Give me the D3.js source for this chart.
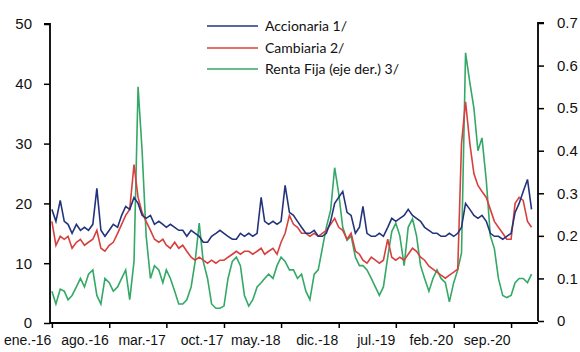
<!DOCTYPE html>
<html><head><meta charset="utf-8">
<script src="https://cdn.jsdelivr.net/npm/d3@7"></script>
<style>
body{margin:0;background:#fff;}
svg{display:block;font-family:Lato,"Open Sans",sans-serif;}
</style></head>
<body><svg id="c" width="580" height="352"></svg>
<script>
// Half-monthly observations (1st and 16th) from ene-2016 to nov-2020
const startYear = 2016, nPoints = 118;
const dates = d3.range(nPoints).map(i => new Date(startYear, Math.floor(i/2), i%2 ? 16 : 1));

const accionaria = [19,17,20.5,17,16.5,15,16.5,15.5,16,15.5,16.5,22.5,15.5,14.5,15.5,16.5,16,18,19.5,19,
  21,20,18,17.5,18,16.5,17,16.5,16,16.5,16,15.5,15.5,14.5,15.5,15,14.5,13.5,13.5,14.5,
  15,15.5,15,14.5,14,14,15,14.5,15,14.5,15,21,17,16.5,17,16.5,17,23,18.5,18,
  17,16,15,15,15.5,14.5,14.5,15,17,20,21,22,18.5,18,15,16,19.5,15,14.5,14.5,
  15,14.5,16,17.5,17,17.5,18,19,18,17.5,17,16,15.5,15,15,14.5,14.5,15,14.5,15,
  16,20,19,18,17.5,18,17,15,14.5,14.5,14,14.5,15,18.5,20,22,24,19];

const cambiaria = [17,13,14.5,14,14.5,12.5,13.5,14,13,13.5,14,15.5,12.5,12,13,13.5,15,16.5,18,19,
  26.5,21,18.5,17,15.5,14,13.5,14,13,12.5,13.5,12.5,13,12,11,10.5,11,10.5,10,10.5,
  10,10.5,10.5,11,11.5,12,11.5,12,12,11.5,12,12.5,11.5,12,12.5,11.5,13.5,15,18,16.5,
  16,15,15,14.5,15,14.5,15,15.5,16.5,17.5,16,15.5,14,15,12,11.5,10.5,10,11,10.5,
  10,10.5,14,11,10.5,11,10.5,11.5,12.5,12,11,10.5,9.5,9,8.5,8,7.5,8,8.5,9,
  30,37,30,25,23,22,21,19,17,16,15,14,14,20,21,20.5,17,16];

const rentaFija = [0.07,0.04,0.075,0.07,0.05,0.06,0.08,0.1,0.08,0.11,0.12,0.06,0.04,0.1,0.09,0.07,0.08,0.1,0.12,0.05,
  0.14,0.55,0.4,0.2,0.1,0.13,0.12,0.09,0.12,0.1,0.07,0.04,0.04,0.05,0.08,0.14,0.23,0.14,0.1,0.04,
  0.03,0.03,0.035,0.1,0.14,0.15,0.13,0.06,0.035,0.05,0.08,0.09,0.1,0.11,0.1,0.13,0.15,0.14,0.12,0.12,
  0.1,0.11,0.07,0.05,0.11,0.12,0.17,0.22,0.26,0.36,0.3,0.22,0.19,0.2,0.15,0.13,0.13,0.12,0.1,0.08,
  0.06,0.08,0.15,0.21,0.23,0.2,0.13,0.22,0.24,0.2,0.13,0.1,0.07,0.1,0.12,0.1,0.09,0.045,0.09,0.12,
  0.16,0.63,0.56,0.5,0.4,0.43,0.33,0.2,0.17,0.1,0.06,0.055,0.06,0.09,0.1,0.1,0.09,0.11];

const tickLabels = ["ene.-16","ago.-16","mar.-17","oct.-17","may.-18","dic.-18","jul.-19","feb.-20","sep.-20"];
const tickDates = tickLabels.map((_, i) => new Date(2016, i*7, 1));
const leftTicks = [0,10,20,30,40,50];
const rightTicks = [0,0.1,0.2,0.3,0.4,0.5,0.6,0.7];
const seriesNames = ["Accionaria 1/","Cambiaria 2/","Renta Fija (eje der.) 3/"];
const colors = ["#24347c","#d8403e","#34a866"];

const svg = d3.select("#c");
const x = d3.scaleTime().domain([new Date(2015,11,25), new Date(2020,11,10)]).range([50,538]);
const yL = d3.scaleLinear().domain([0,50]).range([323,24]);
const yR = d3.scaleLinear().domain([0,0.7]).range([321,23]);

const lineL = d3.line().x((d,i)=>x(dates[i])).y(d=>yL(d));
const lineR = d3.line().x((d,i)=>x(dates[i])).y(d=>yR(d));

const g = svg.append("g");
g.append("path").attr("d", lineR(rentaFija)).attr("fill","none").attr("stroke",colors[2]).attr("stroke-width",1.6);
g.append("path").attr("d", lineL(cambiaria)).attr("fill","none").attr("stroke",colors[1]).attr("stroke-width",1.6);
g.append("path").attr("d", lineL(accionaria)).attr("fill","none").attr("stroke",colors[0]).attr("stroke-width",1.6);

const axL = svg.append("g").attr("transform","translate(50,0)")
  .call(d3.axisLeft(yL).tickValues(leftTicks).tickSize(6).tickPadding(12).tickFormat(d3.format("d")));
const axR = svg.append("g").attr("transform","translate(538,0)")
  .call(d3.axisRight(yR).tickValues(rightTicks).tickSize(6).tickPadding(13).tickFormat(d => d===0 ? "0" : d3.format(".1f")(d)));
const axB = svg.append("g").attr("transform","translate(0,323)")
  .call(d3.axisBottom(x).tickValues(tickDates).tickSize(5).tickPadding(7).tickFormat((d,i)=>tickLabels[i]));

[axL,axR,axB].forEach(a=>{
  a.select(".domain").attr("stroke","#000").attr("stroke-width",1.8);
  a.selectAll(".tick line").attr("stroke","#000").attr("stroke-width",1.5);
  a.selectAll("text").attr("fill","#111").style("font-size","15px");
});
axB.selectAll(".tick text").attr("text-anchor","end").attr("dx","-1").style("font-size","14px");
axL.select(".domain").attr("d","M-6,24H0V323");
axR.select(".domain").attr("d","M6,23H0V321");
axB.select(".domain").attr("d","M50,0H538");

const legY = [26,48,69];
const leg = svg.append("g");
seriesNames.forEach((n,i)=>{
  leg.append("line").attr("x1",207).attr("x2",258).attr("y1",legY[i]).attr("y2",legY[i])
    .attr("stroke",colors[i]).attr("stroke-width",1.6);
  leg.append("text").attr("x",265).attr("y",legY[i]).attr("dy","0.35em")
    .style("font-size","14px").attr("fill","#111").text(n);
});
</script></body></html>
